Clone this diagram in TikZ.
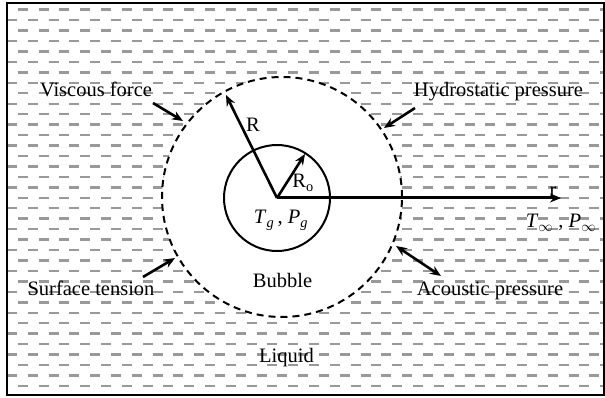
\documentclass[tikz,border=0pt]{standalone}
\usepackage{fontspec}
\setmainfont{Liberation Serif}
\usetikzlibrary{arrows.meta}
\begin{document}
\begin{tikzpicture}[x=1pt,y=-1pt,
  lbl/.style={font=\fontsize{20.5}{24}\selectfont, inner sep=0pt, anchor=base},
  hatchline/.style={draw=black!40, line width=2.4pt, dash pattern=on 10pt off 10.8pt},
  arr/.style={line width=2.6pt, -{Stealth[length=11pt,width=9pt]}},
  darr/.style={line width=2.6pt, {Stealth[length=11pt,width=9pt]}-{Stealth[length=11pt,width=9pt]}},
  frameline/.style={draw=black, line width=2.5pt},
  bubblecirc/.style={circle, draw=black, line width=2pt, inner sep=0pt, minimum size=106pt},
  wallcirc/.style={circle, draw=black, fill=white, line width=2pt, dash pattern=on 7pt off 5pt, inner sep=0pt, minimum size=240pt}
]
\useasboundingbox (0,0) rectangle (605,398);
% liquid hatching
\foreach \i in {0,2,...,36} {
  \pgfmathsetmacro\yy{9.7+10.45*\i}
  \draw[hatchline, dash phase=10pt] (7,\yy) -- (604,\yy);
}
\foreach \i in {1,3,...,35} {
  \pgfmathsetmacro\yy{9.7+10.45*\i}
  \draw[hatchline] (7,\yy) -- (604,\yy);
}
\draw[frameline] (7,3) rectangle (604,395);
% bubble wall and bubble
\node[wallcirc] (wall) at (282,197) {};
\node[bubblecirc] (bubble) at (277,198) {};
\coordinate (c) at (277,198);
\coordinate (Rtip) at (226,95);
\coordinate (Rotip) at (305,154);
\coordinate (rtip) at (561,198);
\draw[arr] (c) -- (Rtip);
\draw[arr] (c) -- (Rotip);
\draw[arr, line width=3pt] (c) -- (rtip);
% labels
\node[lbl] (Rlbl) at (253,132) {R};
\node[lbl] (Rolbl) at (303,188) {R\textsubscript{o}};
\node[lbl] (rlbl) at (553,197) {r};
\node[lbl] (TgPg) at (281,224) {\textit{T}\textsubscript{\textit{g}}\,, \textit{P}\textsubscript{\textit{g}}};
\node[lbl] (TinfPinf) at (561,228) {\textit{T}\textsubscript{$\infty$} , \textit{P}\textsubscript{$\infty$}};
\node[lbl] (bubblelbl) at (282.5,287) {Bubble};
\node[lbl] (liquidlbl) at (286.5,362) {Liquid};
\node[lbl] (visc) at (96,97) {Viscous force};
\node[lbl] (hydro) at (498.5,97) {Hydrostatic pressure};
\node[lbl] (surf) at (91,295) {Surface tension};
\node[lbl] (acou) at (490,295) {Acoustic pressure};
% force arrows
\coordinate (viscA) at (153,103);
\coordinate (viscB) at (183,121);
\coordinate (hydroA) at (415,108);
\coordinate (hydroB) at (384,128);
\coordinate (surfA) at (143,277);
\coordinate (surfB) at (175,258);
\coordinate (acouA) at (396,246);
\coordinate (acouB) at (441,276);
\draw[arr] (viscA) -- (viscB);
\draw[arr] (hydroA) -- (hydroB);
\draw[arr] (surfA) -- (surfB);
\draw[darr] (acouA) -- (acouB);
\end{tikzpicture}
\end{document}
